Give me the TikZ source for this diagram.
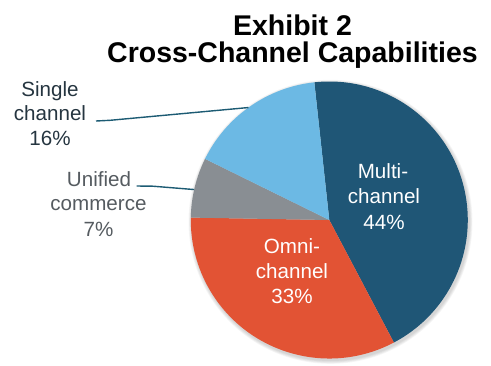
\documentclass[tikz,border=0pt]{standalone}
\usepackage{fontspec}
\setmainfont{Liberation Sans}
\usetikzlibrary{calc}
\definecolor{multiC}{HTML}{1F5676}
\definecolor{omniC}{HTML}{E25334}
\definecolor{unifC}{HTML}{898E93}
\definecolor{singC}{HTML}{6CB9E4}
\definecolor{leadC}{HTML}{1C5B73}
\definecolor{singT}{HTML}{253540}
\definecolor{unifT}{HTML}{555B60}
\tikzset{
  titletext/.style={font=\fontsize{28.5}{30}\selectfont\bfseries, anchor=base, inner sep=0pt, text=black},
  lbltext/.style={font=\fontsize{20.6}{24}\selectfont, anchor=base, inner sep=0pt},
  inlbl/.style={lbltext, text=white},
  leader/.style={draw=leadC, line width=1.4pt, line join=round}
}
\begin{document}
\begin{tikzpicture}[x=1pt,y=1pt]
\useasboundingbox (0,0) rectangle (491,-365);
\def\R{138.5}
\coordinate (c) at (329.3,-220);
% soft shadow
\foreach \i in {1,...,5}{
  \fill[black, opacity=0.035] ($(c)+(1.2,-1.8)$) circle[radius=\R+\i*0.7];
}
% slices
\fill[multiC] (c) -- ++(96.2:\R) arc[start angle=96.2, end angle=-62.2, radius=\R] -- cycle;
\fill[omniC] (c) -- ++(-62.2:\R) arc[start angle=-62.2, end angle=-181, radius=\R] -- cycle;
\fill[unifC] (c) -- ++(179:\R) arc[start angle=179, end angle=153.8, radius=\R] -- cycle;
\fill[singC] (c) -- ++(153.8:\R) arc[start angle=153.8, end angle=96.2, radius=\R] -- cycle;
% title
\node[titletext] (t1) at (292.5,-35) {Exhibit 2};
\node[titletext] (t2) at (292.5,-62) {Cross-Channel Capabilities};
% inside labels
\node[inlbl] (m1) at (383,-178.5) {Multi-};
\node[inlbl] (m2) at (384,-203.5) {channel};
\node[inlbl] (m3) at (384,-229) {44\%};
\node[inlbl] (o1) at (292,-253.5) {Omni-};
\node[inlbl] (o2) at (292,-278) {channel};
\node[inlbl] (o3) at (292,-303.5) {33\%};
% outside labels
\node[lbltext, text=singT] (s1) at (50,-96) {Single};
\node[lbltext, text=singT] (s2) at (50,-120) {channel};
\node[lbltext, text=singT] (s3) at (50,-145.5) {16\%};
\node[lbltext, text=unifT] (u1) at (99,-186) {Unified};
\node[lbltext, text=unifT] (u2) at (98.5,-210.5) {commerce};
\node[lbltext, text=unifT] (u3) at (98.5,-236) {7\%};
% leader lines
\coordinate (sA) at (96,-121);
\coordinate (sB) at (110,-120.3);
\coordinate (sC) at ($(c)+(125.7:\R)$);
\coordinate (uA) at (136.7,-186);
\coordinate (uB) at (153,-186.2);
\coordinate (uC) at ($(c)+(167.3:\R)$);
\draw[leader] (sA) -- (sB) -- (sC);
\draw[leader] (uA) -- (uB) -- (uC);
\end{tikzpicture}
\end{document}
